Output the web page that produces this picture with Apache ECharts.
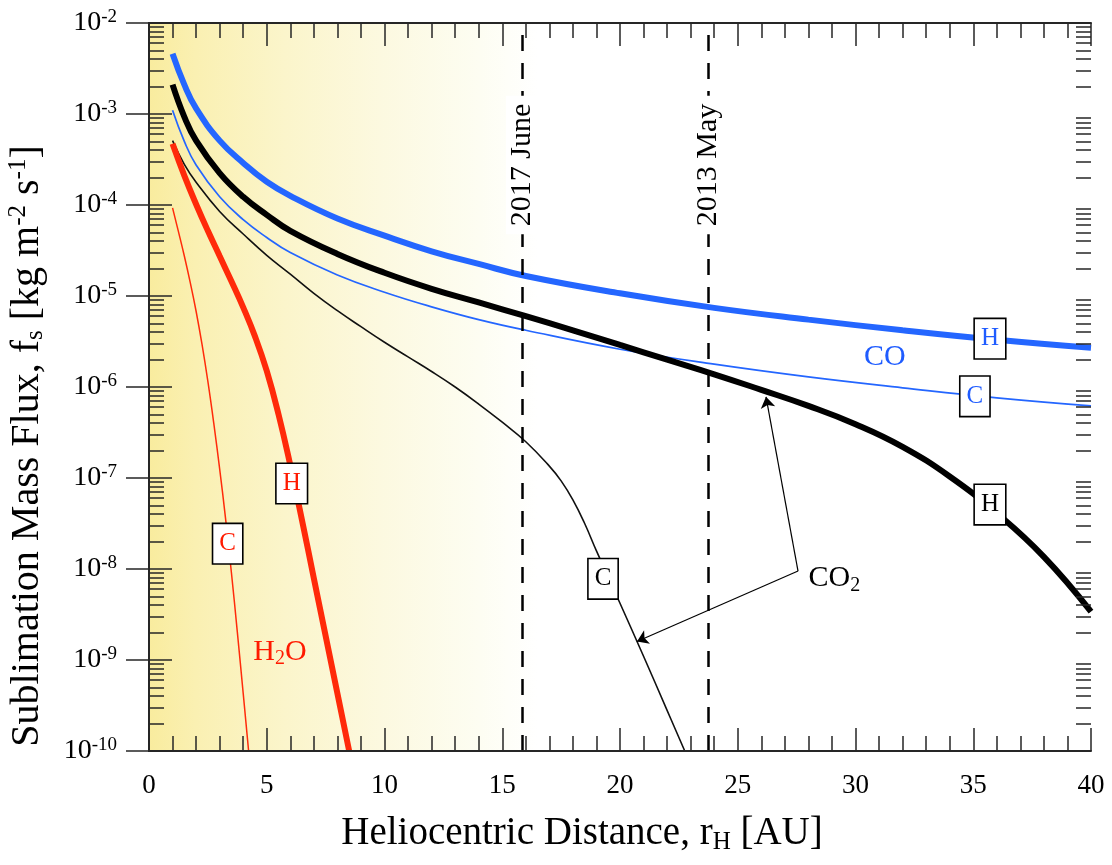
<!DOCTYPE html>
<html><head><meta charset="utf-8">
<script src="https://cdn.jsdelivr.net/npm/echarts@6/dist/echarts.min.js"></script>
<style>html,body{margin:0;padding:0;background:#fff}#c{width:1112px;height:865px}</style>
</head><body><div id="c"></div>
<script>
// ---------- data ----------
const distCOH  = [1, 1.5, 2, 3, 4, 5, 6, 8, 10, 12, 14, 16, 20, 24, 28, 32, 36, 40];
const fluxCOH  = [4.6e-3, 2.1e-3, 1.15e-3, 5.1e-4, 2.9e-4, 1.8e-4, 1.26e-4, 7.1e-5, 4.6e-5, 3.1e-5, 2.25e-5, 1.66e-5, 1.07e-5, 7.4e-6, 5.5e-6, 4.2e-6, 3.3e-6, 2.7e-6];

const distCOC  = [1, 1.5, 2, 3, 4, 5, 6, 8, 10, 12, 14, 16, 20, 24, 28, 32, 36, 40];
const fluxCOC  = [1.1e-3, 5.0e-4, 2.75e-4, 1.23e-4, 6.9e-5, 4.4e-5, 3.0e-5, 1.7e-5, 1.1e-5, 7.6e-6, 5.5e-6, 4.2e-6, 2.6e-6, 1.78e-6, 1.29e-6, 9.8e-7, 7.6e-7, 6.2e-7];

const distCO2H = [1, 1.5, 2, 3, 4, 5, 6, 8, 10, 12, 14, 16, 18, 20, 22, 24, 26, 28, 30, 32, 34, 36, 38, 40];
const fluxCO2H = [2.1e-3, 9.3e-4, 5.1e-4, 2.24e-4, 1.23e-4, 7.8e-5, 5.2e-5, 2.9e-5, 1.8e-5, 1.2e-5, 8.5e-6, 6.0e-6, 4.2e-6, 2.9e-6, 2.0e-6, 1.38e-6, 9.3e-7, 6.2e-7, 3.9e-7, 2.2e-7, 1.04e-7, 4.1e-8, 1.36e-8, 3.4e-9];

const distCO2C = [1, 1.5, 2, 3, 4, 5, 6, 7, 8, 9, 10, 11, 12, 13, 14, 15, 16, 17, 17.5, 18, 18.5, 19, 20, 21, 22, 22.75];
const fluxCO2C = [5.1e-4, 2.8e-4, 1.78e-4, 8.5e-5, 4.8e-5, 2.8e-5, 1.74e-5, 1.07e-5, 6.9e-6, 4.6e-6, 3.1e-6, 2.14e-6, 1.48e-6, 1.0e-6, 6.5e-7, 4.1e-7, 2.5e-7, 1.35e-7, 9.3e-8, 5.75e-8, 3.16e-8, 1.58e-8, 4.2e-9, 1.1e-9, 2.8e-10, 1.0e-10];

const distH2OH = [1, 1.5, 2, 2.5, 3, 3.5, 4, 4.5, 5, 5.5, 6, 6.5, 7, 7.5, 8, 8.5];
const fluxH2OH = [4.7e-4, 2.1e-4, 1.02e-4, 5.2e-5, 2.75e-5, 1.45e-5, 7.5e-6, 3.6e-6, 1.5e-6, 5.0e-7, 1.38e-7, 3.4e-8, 7.9e-9, 1.84e-9, 4.3e-10, 1.0e-10];

const distH2OC = [1, 1.25, 1.5, 1.75, 2, 2.25, 2.5, 2.75, 3, 3.25, 3.5, 3.75, 4.0, 4.23];
const fluxH2OC = [9.3e-5, 5.1e-5, 2.75e-5, 1.41e-5, 6.8e-6, 2.95e-6, 1.15e-6, 4.0e-7, 1.26e-7, 3.6e-8, 9.1e-9, 2.04e-9, 4.3e-10, 1.0e-10];

const yDecades = [1e-10, 1e-9, 1e-8, 1e-7, 1e-6, 1e-5, 1e-4, 1e-3, 1e-2];
const epochDist   = [15.84, 23.74];
const epochLabels = ['2017 June', '2013 May'];

// annotation anchors in data coordinates
const boxLabels = [
  { text: 'H', r: 35.71, f: 3.4e-6,  color: '#1f5cff' },
  { text: 'C', r: 35.07, f: 7.9e-7,  color: '#1f5cff' },
  { text: 'H', r: 35.71, f: 5.1e-8,  color: '#000000' },
  { text: 'C', r: 19.28, f: 7.8e-9,  color: '#000000' },
  { text: 'H', r: 6.06,  f: 8.7e-8,  color: '#ff1a00' },
  { text: 'C', r: 3.34,  f: 1.9e-8,  color: '#ff1a00' }
];
const speciesLabels = [
  { text: 'CO',          r: 31.25, f: 2.15e-6, color: '#1f5cff' },
  { text: 'CO{s|2}',     r: 29.1,  f: 7.9e-9,  color: '#000000' },
  { text: 'H{s|2}O',     r: 5.56,  f: 1.23e-9, color: '#ff1a00' }
];
const arrowStart = [27.56, 9.5e-9];
const arrowEnds  = [[26.2, 7.8e-7], [20.72, 1.6e-9]];

// ---------- chart ----------
const FONT = '"Liberation Serif","Times New Roman",Times,serif';
const BLUE = '#2466ff', RED = '#ff2a0a', BLACK = '#000';
const AX = '#262626';

const yMinor = [];
yDecades.slice(0, -1).forEach(d => { for (let m = 2; m <= 9; m++) yMinor.push(m * d); });

const pairs = (xs, ys) => xs.map((x, i) => [x, ys[i]]);

const chart = echarts.init(document.getElementById('c'), null, { renderer: 'canvas' });

const xBase = {
  type: 'value', min: 0, max: 40, interval: 5, gridIndex: 0, z: 10,
  axisLine: { show: true, onZero: false, lineStyle: { color: AX, width: 2 } },
  axisTick: { show: true, inside: true, length: 23, lineStyle: { color: AX, width: 1.5 } },
  minorTick: { show: true, splitNumber: 5, length: 15, lineStyle: { color: AX, width: 1.5 } },
  splitLine: { show: false }, minorSplitLine: { show: false }
};
const yBase = {
  type: 'log', logBase: 10, min: 1e-10, max: 1e-2, gridIndex: 0, z: 10,
  axisLine: { show: true, lineStyle: { color: AX, width: 2 } },
  splitLine: { show: false }
};

const lineCommon = { type: 'line', showSymbol: false, smooth: 0.45, xAxisIndex: 0, yAxisIndex: 0 };

const option = {
  animation: false,
  backgroundColor: '#fff',
  grid: { left: 149, top: 23, width: 942, height: 728, containLabel: false, outerBoundsMode: 'none' },
  xAxis: [
    Object.assign({}, xBase, {
      position: 'bottom',
      axisLabel: { show: true, fontFamily: FONT, fontSize: 27, color: '#000', margin: 21 }
    }),
    Object.assign({}, xBase, { position: 'top', axisLabel: { show: false } })
  ],
  yAxis: [
    Object.assign({}, yBase, {
      position: 'left',
      axisTick: { show: true, inside: true, length: 23, customValues: yDecades, lineStyle: { color: AX, width: 1.5 } },
      axisLabel: {
        show: true, customValues: yDecades, margin: 32,
        formatter: v => '{b|10}{s|' + Math.round(Math.log10(v)) + '}',
        rich: {
          b: { fontFamily: FONT, fontSize: 28, color: '#000', lineHeight: 30 },
          s: { fontFamily: FONT, fontSize: 19, color: '#000', lineHeight: 14, verticalAlign: 'top' }
        }
      }
    }),
    Object.assign({}, yBase, {
      position: 'right',
      axisTick: { show: true, inside: true, length: 23, customValues: yDecades, lineStyle: { color: AX, width: 1.5 } },
      axisLabel: { show: false }
    }),
    Object.assign({}, yBase, {
      position: 'left', axisLine: { show: false },
      axisTick: { show: true, inside: true, length: 15, customValues: yMinor, lineStyle: { color: AX, width: 1.5 } },
      axisLabel: { show: false }
    }),
    Object.assign({}, yBase, {
      position: 'right', axisLine: { show: false },
      axisTick: { show: true, inside: true, length: 15, customValues: yMinor, lineStyle: { color: AX, width: 1.5 } },
      axisLabel: { show: false }
    })
  ],
  series: [
    { // background gradient + epoch lines
      type: 'line', data: [], xAxisIndex: 0, yAxisIndex: 0, silent: true, z: 1,
      markArea: {
        silent: true,
        itemStyle: { color: new echarts.graphic.LinearGradient(0, 0, 1, 0, [
          { offset: 0, color: '#f9ec9e' }, { offset: 0.12, color: '#faf0b2' },
          { offset: 0.35, color: '#fbf5cb' }, { offset: 0.6, color: '#fcf9e0' },
          { offset: 0.85, color: '#fdfdf2' }, { offset: 1, color: '#ffffff' }]) },
        data: [[{ xAxis: 0 }, { xAxis: 16.5 }]]
      },
      markLine: {
        silent: true, symbol: ['none', 'none'], label: { show: false },
        lineStyle: { type: [16, 12], color: '#000', width: 2.5 },
        emphasis: { disabled: true },
        data: epochDist.map(d => ({ xAxis: d }))
      }
    },
    Object.assign({}, lineCommon, { name: 'CO H', data: pairs(distCOH, fluxCOH), lineStyle: { color: BLUE, width: 6 }, z: 3 }),
    Object.assign({}, lineCommon, { name: 'CO C', data: pairs(distCOC, fluxCOC), lineStyle: { color: BLUE, width: 1.7 }, z: 3 }),
    Object.assign({}, lineCommon, { name: 'CO2 H', data: pairs(distCO2H, fluxCO2H), lineStyle: { color: BLACK, width: 6 }, z: 4,
      markLine: {
        silent: true, symbol: ['none', 'arrow'], symbolSize: 11, label: { show: false },
        lineStyle: { type: 'solid', color: '#000', width: 1.2 },
        emphasis: { disabled: true },
        data: arrowEnds.map(e => [{ coord: arrowStart }, { coord: e }])
      } }),
    Object.assign({}, lineCommon, { name: 'CO2 C', data: pairs(distCO2C, fluxCO2C), lineStyle: { color: '#111', width: 1.6 }, z: 3 }),
    Object.assign({}, lineCommon, { name: 'H2O H', data: pairs(distH2OH, fluxH2OH), lineStyle: { color: RED, width: 6 }, z: 3 }),
    Object.assign({}, lineCommon, { name: 'H2O C', data: pairs(distH2OC, fluxH2OC), lineStyle: { color: RED, width: 1.5 }, z: 3 })
  ]
};
chart.setOption(option);

const toPx = (r, f) => chart.convertToPixel({ xAxisIndex: 0, yAxisIndex: 0 }, [r, f]);
const graphics = [];

// epoch labels (white background hides part of dashed line)
epochDist.forEach((d, i) => {
  const p = toPx(d, 2.75e-4);
  graphics.push({
    type: 'text', x: p[0], y: p[1], rotation: Math.PI / 2, z: 50,
    style: { text: epochLabels[i], fontFamily: FONT, fontSize: 30, fill: '#000',
      backgroundColor: '#fff', padding: [2, 8, 0, 8], align: 'center', verticalAlign: 'middle' }
  });
});

// boxed H / C labels
boxLabels.forEach(b => {
  const p = toPx(b.r, b.f);
  graphics.push({
    type: 'text', x: p[0], y: p[1], z: 60,
    style: { text: b.text, fontFamily: FONT, fontSize: 25, fill: b.color,
      backgroundColor: '#fff', borderColor: '#000', borderWidth: 1.6,
      padding: [8, 6, 6, 6], align: 'center', verticalAlign: 'middle' }
  });
});

// species labels
speciesLabels.forEach(s => {
  const p = toPx(s.r, s.f);
  graphics.push({
    type: 'text', x: p[0], y: p[1], z: 60,
    style: { text: s.text, fontFamily: FONT, fontSize: 30, fill: s.color, align: 'center', verticalAlign: 'middle',
      rich: { s: { fontFamily: FONT, fontSize: 20, fill: s.color, lineHeight: 18, verticalAlign: 'bottom' } },
      lineHeight: 34 }
  });
});

// axis titles
graphics.push({
  type: 'text', x: 582, y: 834, z: 60,
  style: { text: 'Heliocentric Distance, r{s|H} [AU]', fontFamily: FONT, fontSize: 39, fill: '#000',
    align: 'center', verticalAlign: 'middle', lineHeight: 42,
    rich: { s: { fontFamily: FONT, fontSize: 25, fill: '#000', lineHeight: 24, verticalAlign: 'bottom' } } }
});
graphics.push({
  type: 'text', x: 27, y: 446, rotation: Math.PI / 2, z: 60,
  style: { text: 'Sublimation Mass Flux, f{s|s} [kg m{p|-2} s{p|-1}]', fontFamily: FONT, fontSize: 40, fill: '#000',
    align: 'center', verticalAlign: 'middle', lineHeight: 42,
    rich: {
      s: { fontFamily: FONT, fontSize: 25, fill: '#000', lineHeight: 24, verticalAlign: 'bottom' },
      p: { fontFamily: FONT, fontSize: 25, fill: '#000', lineHeight: 24, verticalAlign: 'top' }
    } }
});

chart.setOption({ graphic: graphics });
</script>
</body></html>
